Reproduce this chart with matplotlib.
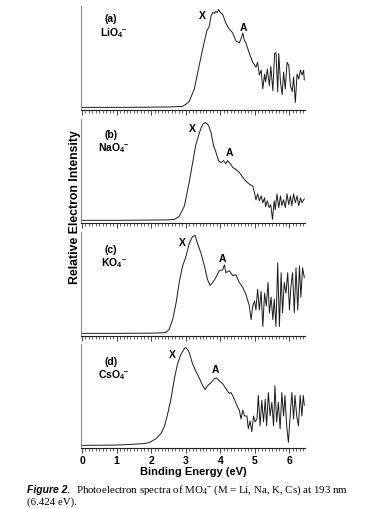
import matplotlib
matplotlib.use("Agg")
import matplotlib.pyplot as plt
from matplotlib.ticker import MultipleLocator

# ---------------- data (binding energy eV, relative intensity) ----------------
xa = [0.0, 1.0, 2.0, 2.6, 2.9, 3.00, 3.10, 3.25, 3.39, 3.51, 3.61, 3.68, 3.73, 3.78, 3.83,
      3.87, 3.91, 3.95, 4.00, 4.07, 4.16, 4.26, 4.36, 4.45, 4.55, 4.60, 4.65, 4.70, 4.74,
      4.84, 4.94, 5.03, 5.08, 5.13, 5.18, 5.23, 5.28, 5.31, 5.36, 5.42, 5.46, 5.52, 5.57,
      5.61, 5.66, 5.69, 5.74, 5.79, 5.83, 5.88, 5.93, 5.98, 6.03, 6.08, 6.12, 6.17, 6.22,
      6.27, 6.32, 6.37, 6.41, 6.43]
ya = [0.0, 0.0, 0.002, 0.005, 0.01, 0.03, 0.06, 0.19, 0.43, 0.63, 0.78, 0.83, 0.93, 0.97, 0.96,
      0.98, 0.97, 1.0, 0.97, 0.95, 0.86, 0.80, 0.76, 0.68, 0.66, 0.70, 0.76, 0.68, 0.66,
      0.55, 0.46, 0.41, 0.46, 0.33, 0.38, 0.19, 0.34, 0.26, 0.39, 0.22, 0.42, 0.17, 0.55,
      0.56, 0.16, 0.55, 0.26, 0.13, 0.36, 0.19, 0.46, 0.43, 0.22, 0.16, 0.31, 0.05, 0.34,
      0.29, 0.38, 0.33, 0.38, 0.28]

xb = [0.0, 1.0, 2.0, 2.5, 2.67, 2.81, 2.96, 3.10, 3.20, 3.29, 3.39, 3.45, 3.51, 3.58, 3.66,
      3.73, 3.80, 3.87, 3.95, 4.02, 4.09, 4.16, 4.21, 4.26, 4.31, 4.36, 4.45, 4.55, 4.65,
      4.74, 4.84, 4.94, 4.99, 5.03, 5.08, 5.13, 5.18, 5.23, 5.28, 5.31, 5.36, 5.41, 5.46,
      5.51, 5.56, 5.59, 5.64, 5.69, 5.74, 5.78, 5.83, 5.88, 5.93, 5.98, 6.03, 6.07, 6.12,
      6.17, 6.22, 6.27, 6.32, 6.36, 6.43]
yb = [0.0, 0.0, 0.003, 0.005, 0.01, 0.04, 0.145, 0.39, 0.59, 0.77, 0.89, 0.95, 0.99, 1.0, 0.97,
      0.90, 0.77, 0.70, 0.61, 0.59, 0.61, 0.58, 0.61, 0.59, 0.57, 0.54, 0.52, 0.49, 0.44,
      0.40, 0.37, 0.35, 0.28, 0.21, 0.27, 0.20, 0.25, 0.18, 0.23, 0.14, 0.20, 0.13, 0.16,
      0.01, 0.20, 0.11, 0.27, 0.13, 0.25, 0.15, 0.21, 0.13, 0.27, 0.16, 0.25, 0.15, 0.27,
      0.18, 0.25, 0.15, 0.23, 0.18, 0.22]

xc = [0.0, 1.0, 2.0, 2.3, 2.43, 2.52, 2.62, 2.72, 2.81, 2.91, 3.01, 3.10, 3.20, 3.27, 3.34,
      3.44, 3.54, 3.63, 3.70, 3.78, 3.87, 3.97, 4.07, 4.12, 4.16, 4.26, 4.36, 4.45, 4.55,
      4.65, 4.74, 4.84, 4.89, 4.94, 4.99, 5.03, 5.08, 5.13, 5.18, 5.23, 5.28, 5.33, 5.38,
      5.42, 5.47, 5.52, 5.56, 5.61, 5.66, 5.71, 5.76, 5.80, 5.85, 5.90, 5.95, 6.00, 6.04,
      6.09, 6.14, 6.19, 6.24, 6.29, 6.33, 6.38, 6.43]
yc = [0.0, 0.0, 0.002, 0.005, 0.01, 0.04, 0.14, 0.31, 0.52, 0.69, 0.79, 0.92, 0.99, 1.0, 0.92,
      0.82, 0.69, 0.55, 0.49, 0.52, 0.57, 0.64, 0.65, 0.70, 0.62, 0.64, 0.59, 0.60, 0.52,
      0.47, 0.40, 0.28, 0.14, 0.28, 0.33, 0.24, 0.45, 0.24, 0.43, 0.07, 0.41, 0.28, 0.52,
      0.21, 0.37, 0.14, 0.35, 0.07, 0.72, 0.07, 0.62, 0.21, 0.52, 0.41, 0.62, 0.24, 0.47,
      0.62, 0.21, 0.67, 0.24, 0.69, 0.37, 0.67, 0.57]

xd = [0.0, 1.0, 1.27, 1.5, 1.75, 1.94, 2.14, 2.28, 2.38, 2.47, 2.57, 2.67, 2.76, 2.86, 2.96,
      3.00, 3.05, 3.10, 3.20, 3.29, 3.39, 3.49, 3.56, 3.63, 3.73, 3.83, 3.89, 3.97, 4.07,
      4.16, 4.26, 4.31, 4.41, 4.50, 4.55, 4.60, 4.65, 4.70, 4.77, 4.81, 4.86, 4.91, 4.96,
      5.01, 5.06, 5.10, 5.15, 5.20, 5.25, 5.30, 5.34, 5.39, 5.44, 5.49, 5.54, 5.58, 5.63,
      5.68, 5.73, 5.78, 5.83, 5.87, 5.92, 5.97, 6.02, 6.07, 6.12, 6.16, 6.21, 6.26, 6.31,
      6.36, 6.40, 6.43]
yd = [0.0, 0.003, 0.007, 0.012, 0.017, 0.027, 0.068, 0.12, 0.19, 0.31, 0.47, 0.68, 0.83, 0.93, 0.99,
      1.0, 0.98, 0.95, 0.83, 0.76, 0.69, 0.61, 0.57, 0.61, 0.64, 0.68, 0.69, 0.66, 0.63,
      0.58, 0.53, 0.54, 0.47, 0.39, 0.36, 0.27, 0.36, 0.30, 0.30, 0.17, 0.25, 0.14, 0.30,
      0.24, 0.27, 0.51, 0.20, 0.46, 0.24, 0.47, 0.20, 0.54, 0.30, 0.44, 0.20, 0.61, 0.24,
      0.44, 0.17, 0.54, 0.30, 0.51, 0.20, 0.03, 0.30, 0.54, 0.27, 0.51, 0.30, 0.20, 0.51,
      0.30, 0.51, 0.41]

panel_tags = ["(a)", "(b)", "(c)", "(d)"]
species = [r"LiO$_\mathbf{4}{}^\mathbf{-}$", r"NaO$_\mathbf{4}{}^\mathbf{-}$",
           r"KO$_\mathbf{4}{}^\mathbf{-}$", r"CsO$_\mathbf{4}{}^\mathbf{-}$"]
xticks = [0, 1, 2, 3, 4, 5, 6]
xlabel = "Binding Energy (eV)"
ylabel = "Relative Electron Intensity"
caption_head = "Figure 2."
caption_line1 = r"Photoelectron spectra of MO$_4{}^{-}$ (M = Li, Na, K, Cs) at 193 nm"
caption_line2 = "(6.424 eV)."

# ---------------- style ----------------
plt.rcParams["mathtext.fontset"] = "custom"
plt.rcParams["mathtext.rm"] = "Liberation Serif"
plt.rcParams["mathtext.it"] = "Liberation Serif:italic"
plt.rcParams["mathtext.bf"] = "Liberation Sans:bold"

W, H = 370, 510
fig = plt.figure(figsize=(W / 100, H / 100), dpi=100)
fig.patch.set_facecolor("white")

sans = ["Liberation Sans", "DejaVu Sans"]
serif = ["Liberation Serif", "DejaVu Serif"]

left_px, right_px = 81, 305
tops = [7, 120, 233, 345]
height_px = 104

series = [(xa, ya), (xb, yb), (xc, yc), (xd, yd)]
# X and A label positions (eV, intensity)
xpos = [(3.47, 0.94), (3.20, 0.94), (2.89, 0.93), (2.62, 0.93)]
apos = [(4.68, 0.82), (4.26, 0.70), (4.07, 0.77), (3.87, 0.78)]
tag_y = [(0.885, 0.75), (0.856, 0.73), (0.84, 0.71), (0.84, 0.71)]

for i, (x, y) in enumerate(series):
    top = tops[i]
    ax = fig.add_axes([left_px / W, 1 - (top + height_px) / H,
                       (right_px - left_px) / W, height_px / H])
    ax.plot(x, y, color="#1a1a1a", lw=0.7)
    ax.set_xlim(-0.03, 6.45)
    ax.set_ylim(-0.027, 1.036)
    for s in ["top", "right"]:
        ax.spines[s].set_visible(False)
    ax.spines["left"].set_color("#8a8a8a")
    ax.spines["left"].set_linewidth(0.8)
    ax.spines["bottom"].set_color("#222222")
    ax.spines["bottom"].set_linewidth(0.8)
    ax.set_yticks([])
    ax.set_xticks(xticks)
    ax.xaxis.set_minor_locator(MultipleLocator(0.1))
    ax.tick_params(axis="x", which="major", direction="out", length=3.5, width=0.6,
                   color="#222222", pad=1.5)
    ax.tick_params(axis="x", which="minor", direction="out", length=1.8, width=0.5,
                   color="#222222")
    if i < 3:
        ax.tick_params(axis="x", labelbottom=False)
    else:
        for lab in ax.get_xticklabels():
            lab.set_family(sans)
            lab.set_fontweight("bold")
            lab.set_fontsize(7.5)
        ax.set_xlabel(xlabel, family=sans, fontweight="bold", fontsize=8, labelpad=0.5)
    ax.text(0.135, tag_y[i][0], panel_tags[i], transform=ax.transAxes, ha="center",
            va="center", family=sans, fontweight="bold", fontsize=7.5)
    ax.text(0.145, tag_y[i][1], species[i], transform=ax.transAxes, ha="center",
            va="center", family=sans, fontweight="bold", fontsize=7.5)
    ax.text(xpos[i][0], xpos[i][1], "X", ha="center", va="center", family=sans,
            fontweight="bold", fontsize=7.5)
    ax.text(apos[i][0], apos[i][1], "A", ha="center", va="center", family=sans,
            fontweight="bold", fontsize=7.5)

fig.text(75 / W, 1 - 207 / H, ylabel, rotation=90, ha="center", va="center",
         family=sans, fontweight="bold", fontsize=8.8)

# caption
fig.text(27 / W, 1 - 490 / H, caption_head, ha="left", va="center", family=sans,
         fontweight="bold", style="italic", fontsize=7.5)
fig.text(76 / W, 1 - 490 / H, caption_line1, ha="left", va="center", family=serif,
         fontsize=7.8)
fig.text(27 / W, 1 - 502 / H, caption_line2, ha="left", va="center", family=serif,
         fontsize=7.8)

fig.savefig("out.png", dpi=100, facecolor="white")
